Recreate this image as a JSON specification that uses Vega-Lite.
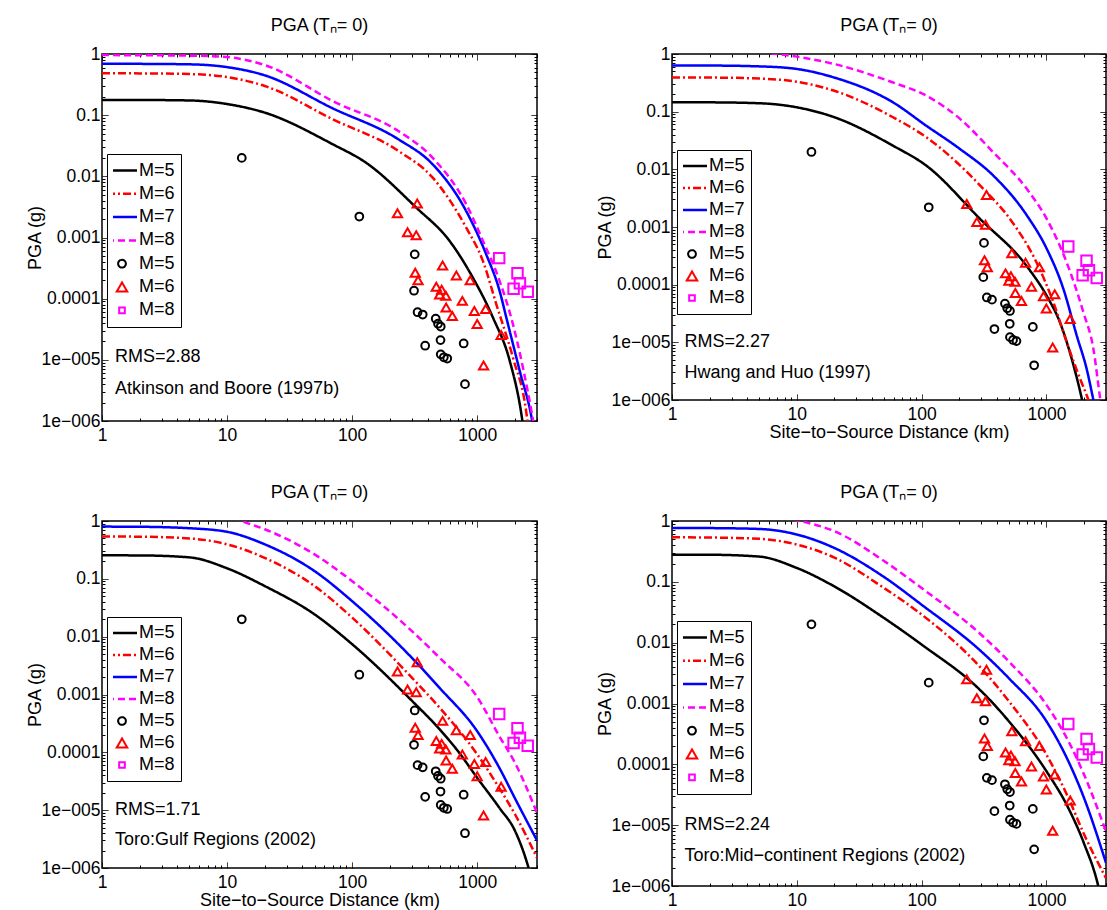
{
  "$schema": "https://vega.github.io/schema/vega-lite/v6.json",
  "padding": {"left": 25, "top": 16, "right": 0, "bottom": 0},
  "background": "white",
  "datasets": {
    "curves": [
      {"p":1,"k":"L5","d":1,"g":0.177},{"p":1,"k":"L5","d":2,"g":0.177},{"p":1,"k":"L5","d":5,"g":0.174},{"p":1,"k":"L5","d":10,"g":0.152},{"p":1,"k":"L5","d":20,"g":0.11},{"p":1,"k":"L5","d":70,"g":0.0334},{"p":1,"k":"L5","d":129,"g":0.0167},{"p":1,"k":"L5","d":324,"g":0.0031},{"p":1,"k":"L5","d":600,"g":0.00088},{"p":1,"k":"L5","d":922,"g":0.00022},{"p":1,"k":"L5","d":1334,"g":0.000049},{"p":1,"k":"L5","d":1817,"g":0.0000096},{"p":1,"k":"L5","d":2250,"g":0.0000013},{"p":1,"k":"L5","d":2350,"g":0.0000007},
      {"p":1,"k":"L6","d":1,"g":0.483},{"p":1,"k":"L6","d":2,"g":0.482},{"p":1,"k":"L6","d":5,"g":0.47},{"p":1,"k":"L6","d":10,"g":0.42},{"p":1,"k":"L6","d":20,"g":0.3},{"p":1,"k":"L6","d":70,"g":0.0855},{"p":1,"k":"L6","d":234,"g":0.026},{"p":1,"k":"L6","d":440,"g":0.0095},{"p":1,"k":"L6","d":815,"g":0.00145},{"p":1,"k":"L6","d":1110,"g":0.00041},{"p":1,"k":"L6","d":1419,"g":0.000081},{"p":1,"k":"L6","d":1928,"g":0.0000108},{"p":1,"k":"L6","d":2466,"g":0.00000137},{"p":1,"k":"L6","d":2550,"g":0.0000008},
      {"p":1,"k":"L7","d":1,"g":0.695},{"p":1,"k":"L7","d":2,"g":0.69},{"p":1,"k":"L7","d":5,"g":0.678},{"p":1,"k":"L7","d":10,"g":0.61},{"p":1,"k":"L7","d":20,"g":0.448},{"p":1,"k":"L7","d":70,"g":0.129},{"p":1,"k":"L7","d":234,"g":0.0403},{"p":1,"k":"L7","d":440,"g":0.0157},{"p":1,"k":"L7","d":815,"g":0.0027},{"p":1,"k":"L7","d":1178,"g":0.00053},{"p":1,"k":"L7","d":1507,"g":0.000134},{"p":1,"k":"L7","d":1706,"g":0.000049},{"p":1,"k":"L7","d":2183,"g":0.0000066},{"p":1,"k":"L7","d":2702,"g":0.0000012},{"p":1,"k":"L7","d":2800,"g":0.0000008},
      {"p":1,"k":"L8","d":1,"g":0.96},{"p":1,"k":"L8","d":2,"g":0.955},{"p":1,"k":"L8","d":5,"g":0.94},{"p":1,"k":"L8","d":10,"g":0.89},{"p":1,"k":"L8","d":20,"g":0.66},{"p":1,"k":"L8","d":74,"g":0.16},{"p":1,"k":"L8","d":234,"g":0.055},{"p":1,"k":"L8","d":440,"g":0.02},{"p":1,"k":"L8","d":815,"g":0.0035},{"p":1,"k":"L8","d":1110,"g":0.00088},{"p":1,"k":"L8","d":1507,"g":0.000195},{"p":1,"k":"L8","d":1928,"g":0.000038},{"p":1,"k":"L8","d":2318,"g":0.0000074},{"p":1,"k":"L8","d":2754,"g":0.0000012},{"p":1,"k":"L8","d":2850,"g":0.0000008},

      {"p":2,"k":"L5","d":1,"g":0.145},{"p":2,"k":"L5","d":2,"g":0.145},{"p":2,"k":"L5","d":5,"g":0.14},{"p":2,"k":"L5","d":10,"g":0.119},{"p":2,"k":"L5","d":20,"g":0.08},{"p":2,"k":"L5","d":59,"g":0.0257},{"p":2,"k":"L5","d":109,"g":0.0116},{"p":2,"k":"L5","d":294,"g":0.00138},{"p":2,"k":"L5","d":695,"g":0.00021},{"p":2,"k":"L5","d":1005,"g":0.000064},{"p":2,"k":"L5","d":1285,"g":0.000022},{"p":2,"k":"L5","d":1546,"g":0.0000065},{"p":2,"k":"L5","d":1930,"g":0.000001},{"p":2,"k":"L5","d":2000,"g":0.0000007},
      {"p":2,"k":"L6","d":1,"g":0.39},{"p":2,"k":"L6","d":2,"g":0.39},{"p":2,"k":"L6","d":5,"g":0.375},{"p":2,"k":"L6","d":10,"g":0.33},{"p":2,"k":"L6","d":20,"g":0.23},{"p":2,"k":"L6","d":59,"g":0.08},{"p":2,"k":"L6","d":109,"g":0.036},{"p":2,"k":"L6","d":312,"g":0.0046},{"p":2,"k":"L6","d":510,"g":0.00138},{"p":2,"k":"L6","d":835,"g":0.00024},{"p":2,"k":"L6","d":1138,"g":0.000049},{"p":2,"k":"L6","d":1455,"g":0.00001},{"p":2,"k":"L6","d":1850,"g":0.0000024},{"p":2,"k":"L6","d":2170,"g":0.000001},{"p":2,"k":"L6","d":2400,"g":0.0000005},
      {"p":2,"k":"L7","d":1,"g":0.63},{"p":2,"k":"L7","d":2,"g":0.63},{"p":2,"k":"L7","d":5,"g":0.61},{"p":2,"k":"L7","d":10,"g":0.55},{"p":2,"k":"L7","d":20,"g":0.39},{"p":2,"k":"L7","d":59,"g":0.145},{"p":2,"k":"L7","d":109,"g":0.057},{"p":2,"k":"L7","d":203,"g":0.0225},{"p":2,"k":"L7","d":375,"g":0.0078},{"p":2,"k":"L7","d":695,"g":0.0016},{"p":2,"k":"L7","d":1005,"g":0.00042},{"p":2,"k":"L7","d":1368,"g":0.000084},{"p":2,"k":"L7","d":1750,"g":0.000013},{"p":2,"k":"L7","d":2104,"g":0.0000034},{"p":2,"k":"L7","d":2378,"g":0.000001},{"p":2,"k":"L7","d":2600,"g":0.0000004},
      {"p":2,"k":"L8","d":1,"g":1.25},{"p":2,"k":"L8","d":2,"g":1.24},{"p":2,"k":"L8","d":5,"g":1.12},{"p":2,"k":"L8","d":7,"g":1.0},{"p":2,"k":"L8","d":10,"g":0.9},{"p":2,"k":"L8","d":20,"g":0.67},{"p":2,"k":"L8","d":59,"g":0.32},{"p":2,"k":"L8","d":109,"g":0.19},{"p":2,"k":"L8","d":203,"g":0.075},{"p":2,"k":"L8","d":375,"g":0.0197},{"p":2,"k":"L8","d":695,"g":0.0046},{"p":2,"k":"L8","d":1005,"g":0.00138},{"p":2,"k":"L8","d":1455,"g":0.00024},{"p":2,"k":"L8","d":1977,"g":0.000033},{"p":2,"k":"L8","d":2378,"g":0.0000077},{"p":2,"k":"L8","d":2706,"g":0.000001},{"p":2,"k":"L8","d":2900,"g":0.0000004},

      {"p":3,"k":"L5","d":1,"g":0.255},{"p":3,"k":"L5","d":2,"g":0.254},{"p":3,"k":"L5","d":5,"g":0.235},{"p":3,"k":"L5","d":10,"g":0.152},{"p":3,"k":"L5","d":20,"g":0.075},{"p":3,"k":"L5","d":50,"g":0.0243},{"p":3,"k":"L5","d":100,"g":0.0074},{"p":3,"k":"L5","d":300,"g":0.00078},{"p":3,"k":"L5","d":500,"g":0.00025},{"p":3,"k":"L5","d":700,"g":0.000105},{"p":3,"k":"L5","d":1000,"g":0.000036},{"p":3,"k":"L5","d":1500,"g":0.000011},{"p":3,"k":"L5","d":2000,"g":0.0000044},{"p":3,"k":"L5","d":2570,"g":0.000001},{"p":3,"k":"L5","d":2800,"g":0.0000005},
      {"p":3,"k":"L6","d":1,"g":0.54},{"p":3,"k":"L6","d":2,"g":0.535},{"p":3,"k":"L6","d":5,"g":0.5},{"p":3,"k":"L6","d":10,"g":0.395},{"p":3,"k":"L6","d":20,"g":0.23},{"p":3,"k":"L6","d":50,"g":0.075},{"p":3,"k":"L6","d":100,"g":0.0213},{"p":3,"k":"L6","d":300,"g":0.00195},{"p":3,"k":"L6","d":500,"g":0.00059},{"p":3,"k":"L6","d":1000,"g":0.000092},{"p":3,"k":"L6","d":1500,"g":0.000024},{"p":3,"k":"L6","d":2000,"g":0.0000085},{"p":3,"k":"L6","d":3000,"g":0.0000015},
      {"p":3,"k":"L7","d":1,"g":0.8},{"p":3,"k":"L7","d":2,"g":0.795},{"p":3,"k":"L7","d":5,"g":0.75},{"p":3,"k":"L7","d":10,"g":0.65},{"p":3,"k":"L7","d":20,"g":0.395},{"p":3,"k":"L7","d":50,"g":0.136},{"p":3,"k":"L7","d":100,"g":0.041},{"p":3,"k":"L7","d":300,"g":0.0043},{"p":3,"k":"L7","d":500,"g":0.0013},{"p":3,"k":"L7","d":1000,"g":0.00023},{"p":3,"k":"L7","d":1500,"g":0.000054},{"p":3,"k":"L7","d":2000,"g":0.000016},{"p":3,"k":"L7","d":3000,"g":0.000003},
      {"p":3,"k":"L8","d":1,"g":1.5},{"p":3,"k":"L8","d":5,"g":1.45},{"p":3,"k":"L8","d":10,"g":1.25},{"p":3,"k":"L8","d":13,"g":1.0},{"p":3,"k":"L8","d":20,"g":0.72},{"p":3,"k":"L8","d":50,"g":0.265},{"p":3,"k":"L8","d":100,"g":0.091},{"p":3,"k":"L8","d":300,"g":0.0125},{"p":3,"k":"L8","d":500,"g":0.0043},{"p":3,"k":"L8","d":1000,"g":0.0009},{"p":3,"k":"L8","d":1500,"g":0.00019},{"p":3,"k":"L8","d":2000,"g":0.000066},{"p":3,"k":"L8","d":3000,"g":0.000009},

      {"p":4,"k":"L5","d":1,"g":0.28},{"p":4,"k":"L5","d":2,"g":0.279},{"p":4,"k":"L5","d":5,"g":0.26},{"p":4,"k":"L5","d":10,"g":0.169},{"p":4,"k":"L5","d":20,"g":0.084},{"p":4,"k":"L5","d":50,"g":0.0254},{"p":4,"k":"L5","d":100,"g":0.0093},{"p":4,"k":"L5","d":300,"g":0.0016},{"p":4,"k":"L5","d":500,"g":0.00051},{"p":4,"k":"L5","d":1000,"g":0.000077},{"p":4,"k":"L5","d":1500,"g":0.000019},{"p":4,"k":"L5","d":2000,"g":0.000005},{"p":4,"k":"L5","d":2600,"g":0.000001},{"p":4,"k":"L5","d":2800,"g":0.0000005},
      {"p":4,"k":"L6","d":1,"g":0.54},{"p":4,"k":"L6","d":2,"g":0.535},{"p":4,"k":"L6","d":5,"g":0.51},{"p":4,"k":"L6","d":10,"g":0.41},{"p":4,"k":"L6","d":20,"g":0.25},{"p":4,"k":"L6","d":50,"g":0.079},{"p":4,"k":"L6","d":100,"g":0.029},{"p":4,"k":"L6","d":300,"g":0.0038},{"p":4,"k":"L6","d":500,"g":0.00109},{"p":4,"k":"L6","d":1000,"g":0.000144},{"p":4,"k":"L6","d":1500,"g":0.000028},{"p":4,"k":"L6","d":2000,"g":0.0000071},{"p":4,"k":"L6","d":3000,"g":0.00000135},
      {"p":4,"k":"L7","d":1,"g":0.77},{"p":4,"k":"L7","d":2,"g":0.765},{"p":4,"k":"L7","d":5,"g":0.74},{"p":4,"k":"L7","d":10,"g":0.6},{"p":4,"k":"L7","d":20,"g":0.36},{"p":4,"k":"L7","d":50,"g":0.12},{"p":4,"k":"L7","d":100,"g":0.042},{"p":4,"k":"L7","d":300,"g":0.0072},{"p":4,"k":"L7","d":500,"g":0.0026},{"p":4,"k":"L7","d":1000,"g":0.00051},{"p":4,"k":"L7","d":1500,"g":0.000112},{"p":4,"k":"L7","d":2000,"g":0.000028},{"p":4,"k":"L7","d":3000,"g":0.0000024},
      {"p":4,"k":"L8","d":1,"g":1.3},{"p":4,"k":"L8","d":5,"g":1.2},{"p":4,"k":"L8","d":10.5,"g":1.0},{"p":4,"k":"L8","d":20,"g":0.68},{"p":4,"k":"L8","d":50,"g":0.22},{"p":4,"k":"L8","d":100,"g":0.079},{"p":4,"k":"L8","d":300,"g":0.0135},{"p":4,"k":"L8","d":500,"g":0.0049},{"p":4,"k":"L8","d":1000,"g":0.00095},{"p":4,"k":"L8","d":1500,"g":0.00024},{"p":4,"k":"L8","d":2000,"g":0.000068},{"p":4,"k":"L8","d":3000,"g":0.0000079}
    ],
    "obs": [
      {"k":"P5","d":13.1,"g":0.02},{"k":"P5","d":114,"g":0.0022},{"k":"P5","d":316,"g":0.00053},{"k":"P5","d":312,"g":0.000135},{"k":"P5","d":333,"g":0.00006},{"k":"P5","d":366,"g":0.000055},{"k":"P5","d":465,"g":0.000047},{"k":"P5","d":485,"g":0.000039},{"k":"P5","d":510,"g":0.000035},{"k":"P5","d":383,"g":0.000017},{"k":"P5","d":508,"g":0.000021},{"k":"P5","d":510,"g":0.0000123},{"k":"P5","d":540,"g":0.000011},{"k":"P5","d":575,"g":0.0000105},{"k":"P5","d":778,"g":0.0000185},{"k":"P5","d":797,"g":0.000004},
      {"k":"P6","d":230,"g":0.0025},{"k":"P6","d":331,"g":0.0036},{"k":"P6","d":277,"g":0.00122},{"k":"P6","d":325,"g":0.00109},{"k":"P6","d":528,"g":0.00035},{"k":"P6","d":319,"g":0.000265},{"k":"P6","d":336,"g":0.0002},{"k":"P6","d":680,"g":0.00024},{"k":"P6","d":878,"g":0.0002},{"k":"P6","d":470,"g":0.000157},{"k":"P6","d":519,"g":0.00014},{"k":"P6","d":500,"g":0.000117},{"k":"P6","d":560,"g":0.000112},{"k":"P6","d":563,"g":0.000072},{"k":"P6","d":631,"g":0.000052},{"k":"P6","d":759,"g":0.000092},{"k":"P6","d":947,"g":0.000063},{"k":"P6","d":1165,"g":0.000068},{"k":"P6","d":998,"g":0.0000385},{"k":"P6","d":1550,"g":0.0000255},{"k":"P6","d":1122,"g":0.0000081},
      {"k":"P8","d":1495,"g":0.00046},{"k":"P8","d":2095,"g":0.00026},{"k":"P8","d":2190,"g":0.000178},{"k":"P8","d":1950,"g":0.000145},{"k":"P8","d":2530,"g":0.00013}
    ]
  },
  "vconcat": [
    {
      "hconcat": [
        {
          "width": 435, "height": 367,
          "title": {"text": "PGA (Tₙ= 0)"},
          "layer": [
            {
              "data": {"name": "curves"},
              "transform": [{"filter": "datum.p == 1"}],
              "mark": {"type": "line", "strokeWidth": 2.5, "clip": true, "interpolate": "monotone"},
              "encoding": {
                "x": {"field": "d", "type": "quantitative", "scale": {"type": "log", "domain": [1, 3000], "nice": false},
                      "axis": {"orient": "bottom", "title": null, "values": [1,2,3,4,5,6,7,8,9,10,20,30,40,50,60,70,80,90,100,200,300,400,500,600,700,800,900,1000,2000,3000], "labelExpr": "datum.value == 1 ? '1' : datum.value == 10 ? '10' : datum.value == 100 ? '100' : datum.value == 1000 ? '1000' : ''", "labelPadding": 5,
                               "tickDash": {"condition": {"test": "indexof([1,10,100,1000], datum.value) < 0", "value": [0, 3, 4, 60]}, "value": [1, 0]}}},
                "y": {"field": "g", "type": "quantitative", "scale": {"type": "log", "domain": [0.000001, 1], "nice": false},
                      "axis": {"orient": "left", "title": "PGA (g)", "titlePadding": -3, "values": [0.000001,0.000002,0.000003,0.000004,0.000005,0.000006,0.000007,0.000008,0.000009,0.00001,0.00002,0.00003,0.00004,0.00005,0.00006,0.00007,0.00008,0.00009,0.0001,0.0002,0.0003,0.0004,0.0005,0.0006,0.0007,0.0008,0.0009,0.001,0.002,0.003,0.004,0.005,0.006,0.007,0.008,0.009,0.01,0.02,0.03,0.04,0.05,0.06,0.07,0.08,0.09,0.1,0.2,0.3,0.4,0.5,0.6,0.7,0.8,0.9,1], "labelExpr": "datum.value == 1 ? '1' : datum.value == 0.1 ? '0.1' : datum.value == 0.01 ? '0.01' : datum.value == 0.001 ? '0.001' : datum.value == 0.0001 ? '0.0001' : datum.value == 0.00001 ? '1e−005' : datum.value == 0.000001 ? '1e−006' : ''", "labelPadding": 2,
                               "tickDash": {"condition": {"test": "indexof([1,0.1,0.01,0.001,0.0001,0.00001,0.000001], datum.value) < 0", "value": [0, 3, 4, 60]}, "value": [1, 0]}}},
                "color": {"field": "k", "type": "nominal", "scale": {"domain": ["L5","L6","L7","L8","P5","P6","P8"], "range": ["#000000","#ff0000","#0000ff","#ff00ff","#000000","#ff0000","#ff00ff"]},
                          "legend": {"title": null, "legendX": 5, "legendY": 100, "clipHeight": 21, "rowPadding": 2.3, "labelExpr": "'M=' + substring(datum.label, 1)",
                                     "encode": {"symbols": {"update": {
                                       "fill": {"value": "transparent"},
                                       "shape": {"signal": "datum.value == 'P5' ? 'circle' : datum.value == 'P6' ? 'triangle-up' : datum.value == 'P8' ? 'square' : 'stroke'"},
                                       "size": {"signal": "datum.value == 'P5' ? 60 : datum.value == 'P6' ? 110 : datum.value == 'P8' ? 32 : 900"},
                                       "strokeWidth": {"signal": "substring(datum.value, 0, 1) == 'P' ? 2 : 2.5"},
                                       "strokeDash": {"signal": "datum.value == 'L6' ? [8,3,2,3] : datum.value == 'L8' ? [7,4] : [1,0]"}}}}}},
                "strokeDash": {"field": "k", "type": "nominal", "scale": {"domain": ["L5","L6","L7","L8"], "range": [[1,0],[8,3,2,3],[1,0],[7,4]]}, "legend": null}
              }
            },
            {
              "data": {"name": "obs"},
              "mark": {"type": "point", "filled": false, "strokeWidth": 2, "opacity": 1, "clip": true},
              "encoding": {
                "x": {"field": "d", "type": "quantitative", "axis": {"orient": "top", "title": null, "labels": false, "values": [1,2,3,4,5,6,7,8,9,10,20,30,40,50,60,70,80,90,100,200,300,400,500,600,700,800,900,1000,2000,3000],
                      "tickDash": {"condition": {"test": "indexof([1,10,100,1000], datum.value) < 0", "value": [0, 3, 4, 60]}, "value": [1, 0]}}},
                "y": {"field": "g", "type": "quantitative", "axis": {"orient": "right", "title": null, "labels": false, "values": [0.000001,0.000002,0.000003,0.000004,0.000005,0.000006,0.000007,0.000008,0.000009,0.00001,0.00002,0.00003,0.00004,0.00005,0.00006,0.00007,0.00008,0.00009,0.0001,0.0002,0.0003,0.0004,0.0005,0.0006,0.0007,0.0008,0.0009,0.001,0.002,0.003,0.004,0.005,0.006,0.007,0.008,0.009,0.01,0.02,0.03,0.04,0.05,0.06,0.07,0.08,0.09,0.1,0.2,0.3,0.4,0.5,0.6,0.7,0.8,0.9,1],
                      "tickDash": {"condition": {"test": "indexof([1,0.1,0.01,0.001,0.0001,0.00001,0.000001], datum.value) < 0", "value": [0, 3, 4, 60]}, "value": [1, 0]}}},
                "color": {"field": "k", "type": "nominal"},
                "shape": {"field": "k", "type": "nominal", "scale": {"domain": ["P5","P6","P8"], "range": ["circle","triangle-up","square"]}, "legend": null},
                "size": {"field": "k", "type": "nominal", "scale": {"domain": ["P5","P6","P8"], "range": [60,110,32]}, "legend": null}
              }
            },
            {
              "data": {"values": [{}]},
              "mark": {"type": "text", "align": "left", "baseline": "middle"},
              "encoding": {"x": {"datum": 1.27, "type": "quantitative", "axis": null}, "y": {"datum": 0.0000111, "type": "quantitative", "axis": null}, "text": {"value": "RMS=2.88"}}
            },
            {
              "data": {"values": [{}]},
              "mark": {"type": "text", "align": "left", "baseline": "middle"},
              "encoding": {"x": {"datum": 1.27, "type": "quantitative", "axis": null}, "y": {"datum": 0.00000333, "type": "quantitative", "axis": null}, "text": {"value": "Atkinson and Boore (1997b)"}}
            }
          ],
          "resolve": {"axis": {"x": "independent", "y": "independent"}}
        },
        {
          "width": 434, "height": 346,
          "title": {"text": "PGA (Tₙ= 0)"},
          "layer": [
            {
              "data": {"name": "curves"},
              "transform": [{"filter": "datum.p == 2"}],
              "mark": {"type": "line", "strokeWidth": 2.5, "clip": true, "interpolate": "monotone"},
              "encoding": {
                "x": {"field": "d", "type": "quantitative", "scale": {"type": "log", "domain": [1, 3000], "nice": false},
                      "axis": {"orient": "bottom", "title": "Site−to−Source Distance (km)", "titlePadding": 1, "values": [1,2,3,4,5,6,7,8,9,10,20,30,40,50,60,70,80,90,100,200,300,400,500,600,700,800,900,1000,2000,3000], "labelExpr": "datum.value == 1 ? '1' : datum.value == 10 ? '10' : datum.value == 100 ? '100' : datum.value == 1000 ? '1000' : ''", "labelPadding": 5,
                               "tickDash": {"condition": {"test": "indexof([1,10,100,1000], datum.value) < 0", "value": [0, 3, 4, 60]}, "value": [1, 0]}}},
                "y": {"field": "g", "type": "quantitative", "scale": {"type": "log", "domain": [0.000001, 1], "nice": false},
                      "axis": {"orient": "left", "title": "PGA (g)", "titlePadding": -3, "values": [0.000001,0.000002,0.000003,0.000004,0.000005,0.000006,0.000007,0.000008,0.000009,0.00001,0.00002,0.00003,0.00004,0.00005,0.00006,0.00007,0.00008,0.00009,0.0001,0.0002,0.0003,0.0004,0.0005,0.0006,0.0007,0.0008,0.0009,0.001,0.002,0.003,0.004,0.005,0.006,0.007,0.008,0.009,0.01,0.02,0.03,0.04,0.05,0.06,0.07,0.08,0.09,0.1,0.2,0.3,0.4,0.5,0.6,0.7,0.8,0.9,1], "labelExpr": "datum.value == 1 ? '1' : datum.value == 0.1 ? '0.1' : datum.value == 0.01 ? '0.01' : datum.value == 0.001 ? '0.001' : datum.value == 0.0001 ? '0.0001' : datum.value == 0.00001 ? '1e−005' : datum.value == 0.000001 ? '1e−006' : ''", "labelPadding": 2,
                               "tickDash": {"condition": {"test": "indexof([1,0.1,0.01,0.001,0.0001,0.00001,0.000001], datum.value) < 0", "value": [0, 3, 4, 60]}, "value": [1, 0]}}},
                "color": {"field": "k", "type": "nominal", "scale": {"domain": ["L5","L6","L7","L8","P5","P6","P8"], "range": ["#000000","#ff0000","#0000ff","#ff00ff","#000000","#ff0000","#ff00ff"]},
                          "legend": {"title": null, "legendX": 5, "legendY": 96, "clipHeight": 20, "rowPadding": 2, "labelExpr": "'M=' + substring(datum.label, 1)",
                                     "encode": {"symbols": {"update": {
                                       "fill": {"value": "transparent"},
                                       "shape": {"signal": "datum.value == 'P5' ? 'circle' : datum.value == 'P6' ? 'triangle-up' : datum.value == 'P8' ? 'square' : 'stroke'"},
                                       "size": {"signal": "datum.value == 'P5' ? 60 : datum.value == 'P6' ? 110 : datum.value == 'P8' ? 32 : 900"},
                                       "strokeWidth": {"signal": "substring(datum.value, 0, 1) == 'P' ? 2 : 2.5"},
                                       "strokeDash": {"signal": "datum.value == 'L6' ? [8,3,2,3] : datum.value == 'L8' ? [7,4] : [1,0]"}}}}}},
                "strokeDash": {"field": "k", "type": "nominal", "scale": {"domain": ["L5","L6","L7","L8"], "range": [[1,0],[8,3,2,3],[1,0],[7,4]]}, "legend": null}
              }
            },
            {
              "data": {"name": "obs"},
              "mark": {"type": "point", "filled": false, "strokeWidth": 2, "opacity": 1, "clip": true},
              "encoding": {
                "x": {"field": "d", "type": "quantitative", "axis": {"orient": "top", "title": null, "labels": false, "values": [1,2,3,4,5,6,7,8,9,10,20,30,40,50,60,70,80,90,100,200,300,400,500,600,700,800,900,1000,2000,3000],
                      "tickDash": {"condition": {"test": "indexof([1,10,100,1000], datum.value) < 0", "value": [0, 3, 4, 60]}, "value": [1, 0]}}},
                "y": {"field": "g", "type": "quantitative", "axis": {"orient": "right", "title": null, "labels": false, "values": [0.000001,0.000002,0.000003,0.000004,0.000005,0.000006,0.000007,0.000008,0.000009,0.00001,0.00002,0.00003,0.00004,0.00005,0.00006,0.00007,0.00008,0.00009,0.0001,0.0002,0.0003,0.0004,0.0005,0.0006,0.0007,0.0008,0.0009,0.001,0.002,0.003,0.004,0.005,0.006,0.007,0.008,0.009,0.01,0.02,0.03,0.04,0.05,0.06,0.07,0.08,0.09,0.1,0.2,0.3,0.4,0.5,0.6,0.7,0.8,0.9,1],
                      "tickDash": {"condition": {"test": "indexof([1,0.1,0.01,0.001,0.0001,0.00001,0.000001], datum.value) < 0", "value": [0, 3, 4, 60]}, "value": [1, 0]}}},
                "color": {"field": "k", "type": "nominal"},
                "shape": {"field": "k", "type": "nominal", "scale": {"domain": ["P5","P6","P8"], "range": ["circle","triangle-up","square"]}, "legend": null},
                "size": {"field": "k", "type": "nominal", "scale": {"domain": ["P5","P6","P8"], "range": [60,110,32]}, "legend": null}
              }
            },
            {
              "data": {"values": [{}]},
              "mark": {"type": "text", "align": "left", "baseline": "middle"},
              "encoding": {"x": {"datum": 1.26, "type": "quantitative", "axis": null}, "y": {"datum": 0.00001, "type": "quantitative", "axis": null}, "text": {"value": "RMS=2.27"}}
            },
            {
              "data": {"values": [{}]},
              "mark": {"type": "text", "align": "left", "baseline": "middle"},
              "encoding": {"x": {"datum": 1.26, "type": "quantitative", "axis": null}, "y": {"datum": 0.0000029, "type": "quantitative", "axis": null}, "text": {"value": "Hwang and Huo (1997)"}}
            }
          ],
          "resolve": {"axis": {"x": "independent", "y": "independent"}}
        }
      ],
      "spacing": 56,
      "resolve": {"scale": {"color": "independent", "shape": "independent", "size": "independent", "strokeDash": "independent"}, "legend": {"color": "independent"}}
    },
    {
      "hconcat": [
        {
          "width": 435, "height": 347,
          "title": {"text": "PGA (Tₙ= 0)"},
          "layer": [
            {
              "data": {"name": "curves"},
              "transform": [{"filter": "datum.p == 3"}],
              "mark": {"type": "line", "strokeWidth": 2.5, "clip": true, "interpolate": "monotone"},
              "encoding": {
                "x": {"field": "d", "type": "quantitative", "scale": {"type": "log", "domain": [1, 3000], "nice": false},
                      "axis": {"orient": "bottom", "title": "Site−to−Source Distance (km)", "titlePadding": 1, "values": [1,2,3,4,5,6,7,8,9,10,20,30,40,50,60,70,80,90,100,200,300,400,500,600,700,800,900,1000,2000,3000], "labelExpr": "datum.value == 1 ? '1' : datum.value == 10 ? '10' : datum.value == 100 ? '100' : datum.value == 1000 ? '1000' : ''", "labelPadding": 5,
                               "tickDash": {"condition": {"test": "indexof([1,10,100,1000], datum.value) < 0", "value": [0, 3, 4, 60]}, "value": [1, 0]}}},
                "y": {"field": "g", "type": "quantitative", "scale": {"type": "log", "domain": [0.000001, 1], "nice": false},
                      "axis": {"orient": "left", "title": "PGA (g)", "titlePadding": -3, "values": [0.000001,0.000002,0.000003,0.000004,0.000005,0.000006,0.000007,0.000008,0.000009,0.00001,0.00002,0.00003,0.00004,0.00005,0.00006,0.00007,0.00008,0.00009,0.0001,0.0002,0.0003,0.0004,0.0005,0.0006,0.0007,0.0008,0.0009,0.001,0.002,0.003,0.004,0.005,0.006,0.007,0.008,0.009,0.01,0.02,0.03,0.04,0.05,0.06,0.07,0.08,0.09,0.1,0.2,0.3,0.4,0.5,0.6,0.7,0.8,0.9,1], "labelExpr": "datum.value == 1 ? '1' : datum.value == 0.1 ? '0.1' : datum.value == 0.01 ? '0.01' : datum.value == 0.001 ? '0.001' : datum.value == 0.0001 ? '0.0001' : datum.value == 0.00001 ? '1e−005' : datum.value == 0.000001 ? '1e−006' : ''", "labelPadding": 2,
                               "tickDash": {"condition": {"test": "indexof([1,0.1,0.01,0.001,0.0001,0.00001,0.000001], datum.value) < 0", "value": [0, 3, 4, 60]}, "value": [1, 0]}}},
                "color": {"field": "k", "type": "nominal", "scale": {"domain": ["L5","L6","L7","L8","P5","P6","P8"], "range": ["#000000","#ff0000","#0000ff","#ff00ff","#000000","#ff0000","#ff00ff"]},
                          "legend": {"title": null, "legendX": 5, "legendY": 96, "clipHeight": 20, "rowPadding": 2, "labelExpr": "'M=' + substring(datum.label, 1)",
                                     "encode": {"symbols": {"update": {
                                       "fill": {"value": "transparent"},
                                       "shape": {"signal": "datum.value == 'P5' ? 'circle' : datum.value == 'P6' ? 'triangle-up' : datum.value == 'P8' ? 'square' : 'stroke'"},
                                       "size": {"signal": "datum.value == 'P5' ? 60 : datum.value == 'P6' ? 110 : datum.value == 'P8' ? 32 : 900"},
                                       "strokeWidth": {"signal": "substring(datum.value, 0, 1) == 'P' ? 2 : 2.5"},
                                       "strokeDash": {"signal": "datum.value == 'L6' ? [8,3,2,3] : datum.value == 'L8' ? [7,4] : [1,0]"}}}}}},
                "strokeDash": {"field": "k", "type": "nominal", "scale": {"domain": ["L5","L6","L7","L8"], "range": [[1,0],[8,3,2,3],[1,0],[7,4]]}, "legend": null}
              }
            },
            {
              "data": {"name": "obs"},
              "mark": {"type": "point", "filled": false, "strokeWidth": 2, "opacity": 1, "clip": true},
              "encoding": {
                "x": {"field": "d", "type": "quantitative", "axis": {"orient": "top", "title": null, "labels": false, "values": [1,2,3,4,5,6,7,8,9,10,20,30,40,50,60,70,80,90,100,200,300,400,500,600,700,800,900,1000,2000,3000],
                      "tickDash": {"condition": {"test": "indexof([1,10,100,1000], datum.value) < 0", "value": [0, 3, 4, 60]}, "value": [1, 0]}}},
                "y": {"field": "g", "type": "quantitative", "axis": {"orient": "right", "title": null, "labels": false, "values": [0.000001,0.000002,0.000003,0.000004,0.000005,0.000006,0.000007,0.000008,0.000009,0.00001,0.00002,0.00003,0.00004,0.00005,0.00006,0.00007,0.00008,0.00009,0.0001,0.0002,0.0003,0.0004,0.0005,0.0006,0.0007,0.0008,0.0009,0.001,0.002,0.003,0.004,0.005,0.006,0.007,0.008,0.009,0.01,0.02,0.03,0.04,0.05,0.06,0.07,0.08,0.09,0.1,0.2,0.3,0.4,0.5,0.6,0.7,0.8,0.9,1],
                      "tickDash": {"condition": {"test": "indexof([1,0.1,0.01,0.001,0.0001,0.00001,0.000001], datum.value) < 0", "value": [0, 3, 4, 60]}, "value": [1, 0]}}},
                "color": {"field": "k", "type": "nominal"},
                "shape": {"field": "k", "type": "nominal", "scale": {"domain": ["P5","P6","P8"], "range": ["circle","triangle-up","square"]}, "legend": null},
                "size": {"field": "k", "type": "nominal", "scale": {"domain": ["P5","P6","P8"], "range": [60,110,32]}, "legend": null}
              }
            },
            {
              "data": {"values": [{}]},
              "mark": {"type": "text", "align": "left", "baseline": "middle"},
              "encoding": {"x": {"datum": 1.27, "type": "quantitative", "axis": null}, "y": {"datum": 0.00001, "type": "quantitative", "axis": null}, "text": {"value": "RMS=1.71"}}
            },
            {
              "data": {"values": [{}]},
              "mark": {"type": "text", "align": "left", "baseline": "middle"},
              "encoding": {"x": {"datum": 1.27, "type": "quantitative", "axis": null}, "y": {"datum": 0.000003, "type": "quantitative", "axis": null}, "text": {"value": "Toro:Gulf Regions (2002)"}}
            }
          ],
          "resolve": {"axis": {"x": "independent", "y": "independent"}}
        },
        {
          "width": 434, "height": 365,
          "title": {"text": "PGA (Tₙ= 0)"},
          "layer": [
            {
              "data": {"name": "curves"},
              "transform": [{"filter": "datum.p == 4"}],
              "mark": {"type": "line", "strokeWidth": 2.5, "clip": true, "interpolate": "monotone"},
              "encoding": {
                "x": {"field": "d", "type": "quantitative", "scale": {"type": "log", "domain": [1, 3000], "nice": false},
                      "axis": {"orient": "bottom", "title": null, "values": [1,2,3,4,5,6,7,8,9,10,20,30,40,50,60,70,80,90,100,200,300,400,500,600,700,800,900,1000,2000,3000], "labelExpr": "datum.value == 1 ? '1' : datum.value == 10 ? '10' : datum.value == 100 ? '100' : datum.value == 1000 ? '1000' : ''", "labelPadding": 5,
                               "tickDash": {"condition": {"test": "indexof([1,10,100,1000], datum.value) < 0", "value": [0, 3, 4, 60]}, "value": [1, 0]}}},
                "y": {"field": "g", "type": "quantitative", "scale": {"type": "log", "domain": [0.000001, 1], "nice": false},
                      "axis": {"orient": "left", "title": "PGA (g)", "titlePadding": -3, "values": [0.000001,0.000002,0.000003,0.000004,0.000005,0.000006,0.000007,0.000008,0.000009,0.00001,0.00002,0.00003,0.00004,0.00005,0.00006,0.00007,0.00008,0.00009,0.0001,0.0002,0.0003,0.0004,0.0005,0.0006,0.0007,0.0008,0.0009,0.001,0.002,0.003,0.004,0.005,0.006,0.007,0.008,0.009,0.01,0.02,0.03,0.04,0.05,0.06,0.07,0.08,0.09,0.1,0.2,0.3,0.4,0.5,0.6,0.7,0.8,0.9,1], "labelExpr": "datum.value == 1 ? '1' : datum.value == 0.1 ? '0.1' : datum.value == 0.01 ? '0.01' : datum.value == 0.001 ? '0.001' : datum.value == 0.0001 ? '0.0001' : datum.value == 0.00001 ? '1e−005' : datum.value == 0.000001 ? '1e−006' : ''", "labelPadding": 2,
                               "tickDash": {"condition": {"test": "indexof([1,0.1,0.01,0.001,0.0001,0.00001,0.000001], datum.value) < 0", "value": [0, 3, 4, 60]}, "value": [1, 0]}}},
                "color": {"field": "k", "type": "nominal", "scale": {"domain": ["L5","L6","L7","L8","P5","P6","P8"], "range": ["#000000","#ff0000","#0000ff","#ff00ff","#000000","#ff0000","#ff00ff"]},
                          "legend": {"title": null, "legendX": 5, "legendY": 100, "clipHeight": 21, "rowPadding": 2.3, "labelExpr": "'M=' + substring(datum.label, 1)",
                                     "encode": {"symbols": {"update": {
                                       "fill": {"value": "transparent"},
                                       "shape": {"signal": "datum.value == 'P5' ? 'circle' : datum.value == 'P6' ? 'triangle-up' : datum.value == 'P8' ? 'square' : 'stroke'"},
                                       "size": {"signal": "datum.value == 'P5' ? 60 : datum.value == 'P6' ? 110 : datum.value == 'P8' ? 32 : 900"},
                                       "strokeWidth": {"signal": "substring(datum.value, 0, 1) == 'P' ? 2 : 2.5"},
                                       "strokeDash": {"signal": "datum.value == 'L6' ? [8,3,2,3] : datum.value == 'L8' ? [7,4] : [1,0]"}}}}}},
                "strokeDash": {"field": "k", "type": "nominal", "scale": {"domain": ["L5","L6","L7","L8"], "range": [[1,0],[8,3,2,3],[1,0],[7,4]]}, "legend": null}
              }
            },
            {
              "data": {"name": "obs"},
              "mark": {"type": "point", "filled": false, "strokeWidth": 2, "opacity": 1, "clip": true},
              "encoding": {
                "x": {"field": "d", "type": "quantitative", "axis": {"orient": "top", "title": null, "labels": false, "values": [1,2,3,4,5,6,7,8,9,10,20,30,40,50,60,70,80,90,100,200,300,400,500,600,700,800,900,1000,2000,3000],
                      "tickDash": {"condition": {"test": "indexof([1,10,100,1000], datum.value) < 0", "value": [0, 3, 4, 60]}, "value": [1, 0]}}},
                "y": {"field": "g", "type": "quantitative", "axis": {"orient": "right", "title": null, "labels": false, "values": [0.000001,0.000002,0.000003,0.000004,0.000005,0.000006,0.000007,0.000008,0.000009,0.00001,0.00002,0.00003,0.00004,0.00005,0.00006,0.00007,0.00008,0.00009,0.0001,0.0002,0.0003,0.0004,0.0005,0.0006,0.0007,0.0008,0.0009,0.001,0.002,0.003,0.004,0.005,0.006,0.007,0.008,0.009,0.01,0.02,0.03,0.04,0.05,0.06,0.07,0.08,0.09,0.1,0.2,0.3,0.4,0.5,0.6,0.7,0.8,0.9,1],
                      "tickDash": {"condition": {"test": "indexof([1,0.1,0.01,0.001,0.0001,0.00001,0.000001], datum.value) < 0", "value": [0, 3, 4, 60]}, "value": [1, 0]}}},
                "color": {"field": "k", "type": "nominal"},
                "shape": {"field": "k", "type": "nominal", "scale": {"domain": ["P5","P6","P8"], "range": ["circle","triangle-up","square"]}, "legend": null},
                "size": {"field": "k", "type": "nominal", "scale": {"domain": ["P5","P6","P8"], "range": [60,110,32]}, "legend": null}
              }
            },
            {
              "data": {"values": [{}]},
              "mark": {"type": "text", "align": "left", "baseline": "middle"},
              "encoding": {"x": {"datum": 1.26, "type": "quantitative", "axis": null}, "y": {"datum": 0.00001, "type": "quantitative", "axis": null}, "text": {"value": "RMS=2.24"}}
            },
            {
              "data": {"values": [{}]},
              "mark": {"type": "text", "align": "left", "baseline": "middle"},
              "encoding": {"x": {"datum": 1.26, "type": "quantitative", "axis": null}, "y": {"datum": 0.00000307, "type": "quantitative", "axis": null}, "text": {"value": "Toro:Mid−continent Regions (2002)"}}
            }
          ],
          "resolve": {"axis": {"x": "independent", "y": "independent"}}
        }
      ],
      "spacing": 56,
      "resolve": {"scale": {"color": "independent", "shape": "independent", "size": "independent", "strokeDash": "independent"}, "legend": {"color": "independent"}}
    }
  ],
  "spacing": 38,
  "resolve": {"scale": {"color": "independent", "shape": "independent", "size": "independent", "strokeDash": "independent"}, "legend": {"color": "independent"}},
  "config": {
    "font": "Liberation Sans",
    "view": {"stroke": "black", "strokeWidth": 1.5},
    "axis": {"labelFont": "Liberation Sans", "labelFontSize": 17.5, "labelColor": "black", "titleFont": "Liberation Sans", "titleFontSize": 18, "titleFontWeight": "normal", "titleColor": "black", "domain": false, "ticks": true, "tickColor": "#000000", "tickOpacity": 1, "tickWidth": 1, "tickSize": 6, "offset": -6, "grid": false, "labelFlush": false, "labelOverlap": false},
    "title": {"font": "Liberation Sans", "fontSize": 18, "fontWeight": "normal", "color": "black", "frame": "group", "offset": 10},
    "text": {"font": "Liberation Sans", "fontSize": 18, "color": "black"},
    "legend": {
      "orient": "none", "strokeColor": "black", "strokeWidth": 1, "fillColor": "white", "padding": 6, "cornerRadius": 0,
      "labelFont": "Liberation Sans", "labelFontSize": 18, "labelColor": "black", "labelOffset": 8,
      "symbolType": "stroke", "symbolSize": 900, "symbolStrokeWidth": 2.5, "symbolOffset": 0
    }
  }
}
